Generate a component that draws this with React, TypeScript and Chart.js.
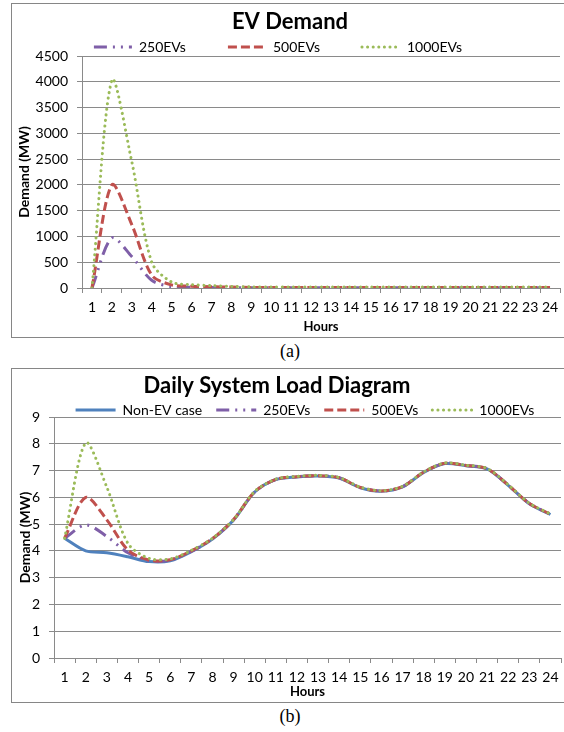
import React, { useEffect, useRef } from "react";
import { Chart, registerables } from "chart.js";

Chart.register(...registerables);

// ---------- data ----------
const HOURS = ["1","2","3","4","5","6","7","8","9","10","11","12","13","14","15","16","17","18","19","20","21","22","23","24"];

// (a) EV demand (MW)
const EV_250 = [0, 970, 610, 150, 25, 15, 10, 8, 6, 5, 5, 5, 5, 5, 5, 5, 5, 5, 5, 5, 5, 5, 5, 5];
const EV_500 = [0, 2000, 1230, 250, 60, 35, 25, 18, 12, 10, 10, 10, 10, 10, 10, 10, 10, 10, 10, 10, 10, 10, 10, 10];
const EV_1000 = [0, 4030, 2450, 500, 115, 65, 45, 30, 22, 20, 20, 20, 20, 20, 20, 20, 20, 20, 20, 20, 20, 20, 20, 20];
const A_TICKS = [0, 500, 1000, 1500, 2000, 2500, 3000, 3500, 4000, 4500];

// (b) daily system load (MW)
const LOAD_NON_EV = [4.47, 4.0, 3.93, 3.78, 3.6, 3.63, 3.97, 4.44, 5.15, 6.2, 6.66, 6.76, 6.8, 6.72, 6.36, 6.23, 6.39, 6.93, 7.26, 7.18, 7.06, 6.45, 5.76, 5.36];
const LOAD_250 = [4.47, 4.97, 4.54, 3.93, 3.63, 3.65, 3.98, 4.45, 5.16, 6.2, 6.67, 6.77, 6.81, 6.73, 6.37, 6.24, 6.4, 6.94, 7.27, 7.19, 7.07, 6.46, 5.77, 5.37];
const LOAD_500 = [4.47, 6.0, 5.16, 4.03, 3.66, 3.67, 4.0, 4.46, 5.17, 6.21, 6.67, 6.77, 6.81, 6.73, 6.37, 6.24, 6.4, 6.94, 7.27, 7.19, 7.07, 6.46, 5.77, 5.37];
const LOAD_1000 = [4.47, 8.03, 6.38, 4.28, 3.72, 3.7, 4.02, 4.47, 5.17, 6.22, 6.68, 6.78, 6.82, 6.74, 6.38, 6.25, 6.41, 6.95, 7.28, 7.2, 7.08, 6.47, 5.78, 5.38];
const B_TICKS = [0, 1, 2, 3, 4, 5, 6, 7, 8, 9];

// ---------- styles ----------
const FONT = "Lato, 'Open Sans', sans-serif";
const GRID = "#8a8a8a";
const BLUE = "#4F81BD";
const PURPLE = "#7F5FA8";
const RED = "#C0504D";
const GREEN = "#9BBB59";

const styleNonEV = { borderColor: BLUE, backgroundColor: BLUE, borderWidth: 3, borderDash: [] as number[], borderCapStyle: "butt" };
const style250 = { borderColor: PURPLE, backgroundColor: PURPLE, borderWidth: 3, borderDash: [13, 6, 2, 6, 2, 6], borderCapStyle: "butt" };
const style500 = { borderColor: RED, backgroundColor: RED, borderWidth: 3, borderDash: [9, 4], borderCapStyle: "butt" };
const style1000 = { borderColor: GREEN, backgroundColor: GREEN, borderWidth: 3, borderDash: [0.1, 5.5], borderCapStyle: "round" };

const LEGEND_FONT = 14;
const TITLE_FONT = 22;
const TICK_FONT = 14;

function placeBoxes(tx: number, ty: number, lx: number, ly: number) {
  return {
    id: "placeBoxes",
    afterLayout(chart: any) {
      const t = chart.titleBlock;
      if (t) {
        const fontLH = TITLE_FONT * 1.2;
        t.left = tx - 270;
        t.right = tx + 270;
        t.top = ty - fontLH / 2;
        t.bottom = t.top + fontLH;
      }
      const l = chart.legend;
      if (l) {
        const pad = l.options.labels.padding;
        l.left = lx - 300;
        l.right = lx + 300;
        l.top = ly - pad - LEGEND_FONT / 2;
        l.bottom = ly + LEGEND_FONT;
      }
    },
  };
}

function baseDataset(label: string, data: number[], style: any, order: number) {
  return {
    label,
    data,
    ...style,
    fill: false,
    tension: 0.3,
    pointRadius: 0,
    pointHoverRadius: 0,
    order,
  };
}

function legendLabels(chart: any) {
  const items = (Chart.defaults as any).plugins.legend.labels.generateLabels(chart);
  items.forEach((it: any) => {
    const ds = chart.data.datasets[it.datasetIndex];
    it.lineDash = ds.borderDash;
    it.lineCap = ds.borderCapStyle;
    it.lineWidth = ds.borderWidth;
    it.strokeStyle = ds.borderColor;
    it.fillStyle = "rgba(0,0,0,0)";
  });
  return items;
}

function makeConfig(opts: {
  title: string;
  datasets: any[];
  yMin: number;
  yMax: number;
  yStep: number;
  yTicks: number[];
  legendPad: number;
  legendWidth: number;
  legendMaxH: number;
  yWidth: number;
  xHeight: number;
  yTitlePad: number;
  xTickPad: number;
  padRight: number;
  tx: number; ty: number; lx: number; ly: number;
}) {
  return {
    type: "line",
    data: { labels: HOURS, datasets: opts.datasets },
    options: {
      responsive: false,
      animation: false,
      events: [],
      devicePixelRatio: 1,
      layout: { padding: { top: 0, left: 0, right: opts.padRight, bottom: 0 } },
      plugins: {
        tooltip: { enabled: false },
        title: {
          display: true,
          text: opts.title,
          color: "#000",
          font: { family: FONT, size: TITLE_FONT, weight: "bold" },
          padding: 0,
        },
        legend: {
          display: true,
          position: "top",
          maxHeight: opts.legendMaxH,
          labels: {
            usePointStyle: true,
            pointStyle: "line",
            pointStyleWidth: opts.legendWidth,
            padding: opts.legendPad,
            color: "#000",
            font: { family: FONT, size: LEGEND_FONT },
            generateLabels: legendLabels,
            sort: (a: any, b: any) => a.datasetIndex - b.datasetIndex,
          },
        },
      },
      scales: {
        x: {
          type: "category",
          offset: true,
          grid: { display: true, drawOnChartArea: false, drawTicks: true, tickLength: 5, offset: true, color: GRID },
          border: { display: true, color: GRID },
          ticks: { autoSkip: false, maxRotation: 0, minRotation: 0, padding: opts.xTickPad, color: "#000", font: { family: FONT, size: TICK_FONT } },
          title: { display: true, text: "Hours", color: "#000", font: { family: FONT, size: 13, weight: "bold" }, padding: { top: 0, bottom: 2 } },
          afterFit: (s: any) => { s.height = opts.xHeight; },
        },
        y: {
          min: opts.yMin,
          max: opts.yMax,
          afterBuildTicks: (s: any) => { s.ticks = opts.yTicks.map((v) => ({ value: v })); },
          grid: { color: GRID, tickLength: 5, drawTicks: true },
          border: { display: true, color: GRID },
          ticks: { stepSize: opts.yStep, padding: 9, color: "#000", font: { family: FONT, size: TICK_FONT }, callback: (v: any) => String(v) },
          title: { display: true, text: "Demand (MW)", color: "#000", font: { family: FONT, size: 14, weight: "bold" }, padding: { top: opts.yTitlePad, bottom: 0 } },
          afterFit: (s: any) => { s.width = opts.yWidth; },
        },
      },
    },
    plugins: [placeBoxes(opts.tx, opts.ty, opts.lx, opts.ly)],
  };
}

function configA() {
  return makeConfig({
    title: "EV Demand",
    datasets: [
      baseDataset("250EVs", EV_250, style250, 2),
      baseDataset("500EVs", EV_500, style500, 1),
      baseDataset("1000EVs", EV_1000, style1000, 0),
    ],
    yMin: 0, yMax: 4500, yStep: 500, yTicks: A_TICKS,
    legendPad: 42,
    legendWidth: 38,
    legendMaxH: 52 - TITLE_FONT * 1.2,
    yWidth: 70,
    xHeight: 49,
    yTitlePad: 4,
    xTickPad: 6,
    padRight: 8,
    tx: 278, ty: 18, lx: 266, ly: 43,
  });
}

function configB() {
  return makeConfig({
    title: "Daily System Load Diagram",
    datasets: [
      baseDataset("Non-EV case", LOAD_NON_EV, styleNonEV, 3),
      baseDataset("250EVs", LOAD_250, style250, 2),
      baseDataset("500EVs", LOAD_500, style500, 1),
      baseDataset("1000EVs", LOAD_1000, style1000, 0),
    ],
    yMin: 0, yMax: 9, yStep: 1, yTicks: B_TICKS,
    legendPad: 14,
    legendWidth: 40,
    legendMaxH: 48 - TITLE_FONT * 1.2,
    yWidth: 42,
    xHeight: 44,
    yTitlePad: 5,
    xTickPad: 6,
    padRight: 7,
    tx: 265, ty: 17, lx: 293, ly: 41,
  });
}

function ChartCanvas({ make, width, height }: { make: () => any; width: number; height: number }) {
  const ref = useRef<HTMLCanvasElement>(null);
  useEffect(() => {
    const chart = new Chart(ref.current as HTMLCanvasElement, make());
    return () => chart.destroy();
  }, []);
  return <canvas ref={ref} width={width} height={height} style={{ display: "block", width, height }} />;
}

const boxStyle = (top: number): React.CSSProperties => ({
  position: "absolute",
  left: 11,
  top,
  width: 556,
  height: 333,
  border: "1px solid #868686",
  boxSizing: "content-box",
  background: "#fff",
});

const captionStyle = (top: number): React.CSSProperties => ({
  position: "absolute",
  left: 190,
  width: 200,
  top,
  textAlign: "center",
  fontFamily: "'Liberation Serif', 'DejaVu Serif', serif",
  fontSize: 18,
  lineHeight: "20px",
  color: "#000",
});

export default function App() {
  return (
    <div style={{ position: "fixed", left: 0, top: 0, width: 564, height: 732, overflow: "hidden", background: "#fff" }}>
      <div style={boxStyle(3)}>
        <ChartCanvas make={configA} width={556} height={333} />
      </div>
      <div style={captionStyle(341)}>(a)</div>
      <div style={boxStyle(368)}>
        <ChartCanvas make={configB} width={556} height={333} />
      </div>
      <div style={captionStyle(706)}>(b)</div>
    </div>
  );
}
